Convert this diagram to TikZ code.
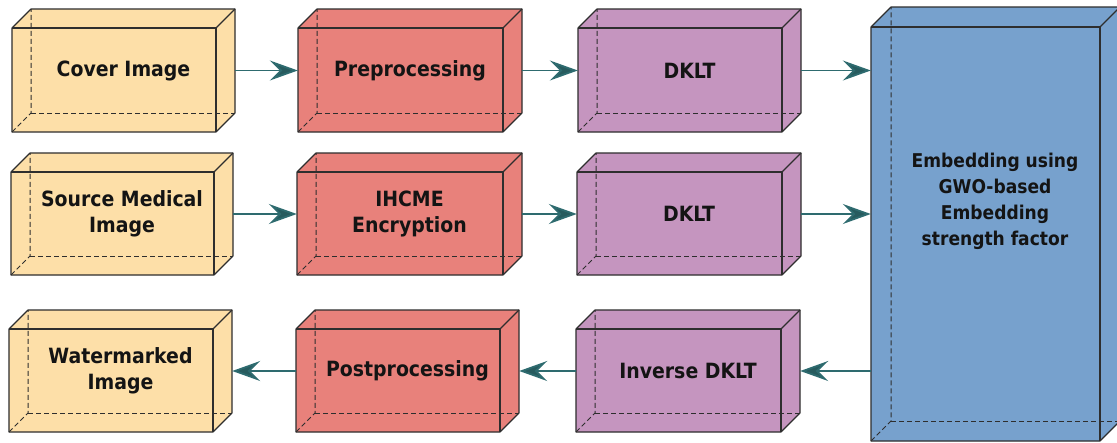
\documentclass[tikz,border=0pt]{standalone}
\usepackage{fontspec}
\setmainfont{DejaVu Sans Condensed}
\usetikzlibrary{arrows.meta}
\definecolor{cyel}{HTML}{FDDFA8}
\definecolor{cred}{HTML}{E8817B}
\definecolor{cpur}{HTML}{C595BF}
\definecolor{cblu}{HTML}{77A1CD}
\definecolor{cedge}{HTML}{2E2E2E}
\definecolor{cflow}{HTML}{2E6B6F}
\tikzset{
  boxedge/.style={draw=cedge, line width=1.1pt, line join=round},
  hidden/.style={draw=cedge, line width=1pt, dash pattern=on 5pt off 3pt},
  boxtext/.style={shape=rectangle, inner sep=0pt, align=center, text=black!92,
    font=\bfseries\fontsize{21}{26}\selectfont},
  bigtext/.style={shape=rectangle, inner sep=0pt, align=center, text=black!92,
    font=\bfseries\fontsize{19}{26}\selectfont},
  flow/.style={draw=cflow, line width=1.8pt,
    -{Stealth[length=28pt, width=20pt, inset=10pt, fill=cflow!85!black]}},
}
% name, x1, y1, x2, y2, depth, colour, text
\newcommand\mycuboid[8]{%
  \fill[#7] (#2,#5) -- (#2,#3) -- (#2+#6,#3-#6) -- (#4+#6,#3-#6) -- (#4+#6,#5-#6) -- (#4,#5) -- cycle;
  \draw[hidden] (#2,#5) -- (#2+#6,#5-#6) -- (#2+#6,#3-#6);
  \draw[hidden] (#2+#6,#5-#6) -- (#4+#6,#5-#6);
  \draw[boxedge] (#2,#5) -- (#2,#3) -- (#2+#6,#3-#6) -- (#4+#6,#3-#6) -- (#4+#6,#5-#6) -- (#4,#5) -- cycle;
  \draw[boxedge] (#2,#3) -- (#4,#3) -- (#4,#5);
  \draw[boxedge] (#4,#3) -- (#4+#6,#3-#6);
  \node[boxtext, minimum width={#4+#6-#2}, minimum height={#5-#3+#6}]
    (#1) at ({(#2+#4+#6)/2},{(#3+#5-#6)/2}) {#8};
}
\begin{document}
\begin{tikzpicture}[x=1pt, y=-1pt]
\useasboundingbox (0,0) rectangle (1117,442);
\clip (0,0) rectangle (1117,442);
\fill[white] (0,0) rectangle (1117,442);
% row 1
\mycuboid{cover}{12}{28}{216}{132}{19}{cyel}{Cover Image}
\mycuboid{pre}{298}{28}{503}{132}{19}{cred}{Preprocessing}
\mycuboid{dkltA}{578}{28}{782}{132}{19}{cpur}{DKLT}
% row 2
\mycuboid{source}{11}{172}{214}{275}{19}{cyel}{Source Medical\\Image}
\mycuboid{ihcme}{297}{172}{503}{275}{19}{cred}{IHCME\\Encryption}
\mycuboid{dkltB}{577}{172}{782}{275}{19}{cpur}{DKLT}
% row 3
\mycuboid{water}{9}{329}{213}{432}{19}{cyel}{Watermarked\\Image}
\mycuboid{post}{296}{329}{500}{432}{19}{cred}{Postprocessing}
\mycuboid{inv}{576}{329}{781}{432}{19}{cpur}{Inverse DKLT}
% big box
\mycuboid{embed}{871}{27}{1100}{441}{20}{cblu}{}
\node[bigtext] (embedtext) at (995,201) {Embedding using\\GWO-based\\Embedding\\strength factor};
% connectors
\draw[flow] (cover.east) -- (pre.west);
\draw[flow] (pre.east) -- (dkltA.west);
\draw[flow] (dkltA.east) -- (dkltA.east -| embed.west);
\draw[flow] (source.east) -- (ihcme.west);
\draw[flow] (ihcme.east) -- (dkltB.west);
\draw[flow] (dkltB.east) -- (dkltB.east -| embed.west);
\draw[flow] (inv.east -| embed.west) -- (inv.east);
\draw[flow] (inv.west) -- (post.east);
\draw[flow] (post.west) -- (water.east);
\end{tikzpicture}
\end{document}
